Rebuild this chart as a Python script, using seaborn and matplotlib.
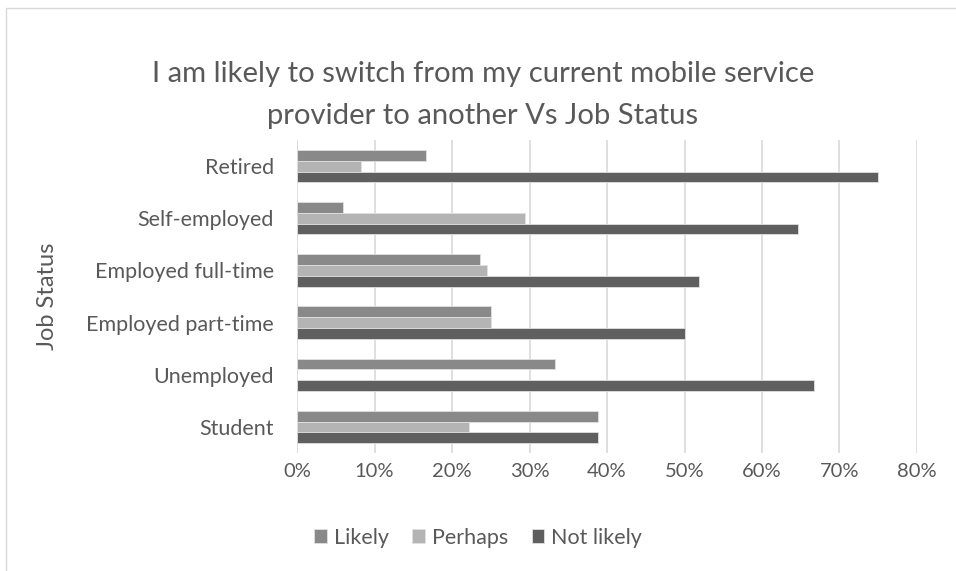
import matplotlib
matplotlib.use("Agg")
import matplotlib.pyplot as plt
import seaborn as sns
import pandas as pd
from matplotlib.patches import Rectangle
from matplotlib.ticker import FuncFormatter

categories = ["Retired", "Self-employed", "Employed full-time",
              "Employed part-time", "Unemployed", "Student"]
series = ["Likely", "Perhaps", "Not likely"]
likely = [16.7, 5.9, 23.6, 25.0, 33.3, 38.9]
perhaps = [8.3, 29.4, 24.5, 25.0, 0.0, 22.2]
not_likely = [75.0, 64.7, 51.9, 50.0, 66.7, 38.9]
colors = ["#898989", "#b4b4b4", "#5f5f5f"]
x_ticks = [0, 10, 20, 30, 40, 50, 60, 70, 80]

rows = []
for s, vals in zip(series, [likely, perhaps, not_likely]):
    for c, v in zip(categories, vals):
        rows.append({"Job Status": c, "Response": s, "Value": v})
df = pd.DataFrame(rows)

sns.set_theme(style="white")
plt.rcParams['font.family'] = ['Lato', 'DejaVu Sans']
txt = "#595959"

fig = plt.figure(figsize=(9.56, 5.71), dpi=100)
ax = fig.add_axes([0.3107, 0.2067, 0.6485, 0.548])

sns.barplot(data=df, y="Job Status", x="Value", hue="Response",
            order=categories, hue_order=series, palette=colors,
            width=0.62, orient="h", ax=ax, edgecolor="#e0e0e0",
            linewidth=0.6, legend=True)

ax.set_xlim(0, 80)
ax.set_xticks(x_ticks)
ax.xaxis.set_major_formatter(FuncFormatter(lambda v, p: f"{int(v)}%"))
ax.grid(axis="x", color="#d9d9d9", linewidth=1.2)
ax.set_axisbelow(True)
for sp in ax.spines.values():
    sp.set_visible(False)
ax.tick_params(axis="x", colors=txt, labelsize=14.5, length=0, pad=7)
ax.tick_params(axis="y", colors=txt, labelsize=15.5, length=0, pad=16.5)
for lab in ax.get_xticklabels() + ax.get_yticklabels():
    lab.set_color(txt)
ax.set_xlabel("")
ax.set_ylabel("Job Status", color=txt, fontsize=17)
ax.yaxis.set_label_coords(-0.3855, 0.5)

ax.legend_.remove()
handles, labels = ax.get_legend_handles_labels()
fig.legend(handles[:3], labels[:3], loc="center", bbox_to_anchor=(0.5, 0.058),
           ncol=3, frameon=False, fontsize=15.5, handlelength=0.6,
           handleheight=0.6, handletextpad=0.3, columnspacing=1.1,
           labelcolor=txt)

fig.text(0.505, 0.834, "I am likely to switch from my current mobile service\nprovider to another Vs Job Status",
         ha="center", va="center", fontsize=21.1, color=txt, linespacing=1.78)

fig.patches.append(Rectangle((6 / 956, -0.05), 1.2, 1 - 8 / 571 + 0.05,
                             transform=fig.transFigure, fill=False,
                             edgecolor="#d9d9d9", linewidth=1))

fig.savefig("out.png", dpi=100)
